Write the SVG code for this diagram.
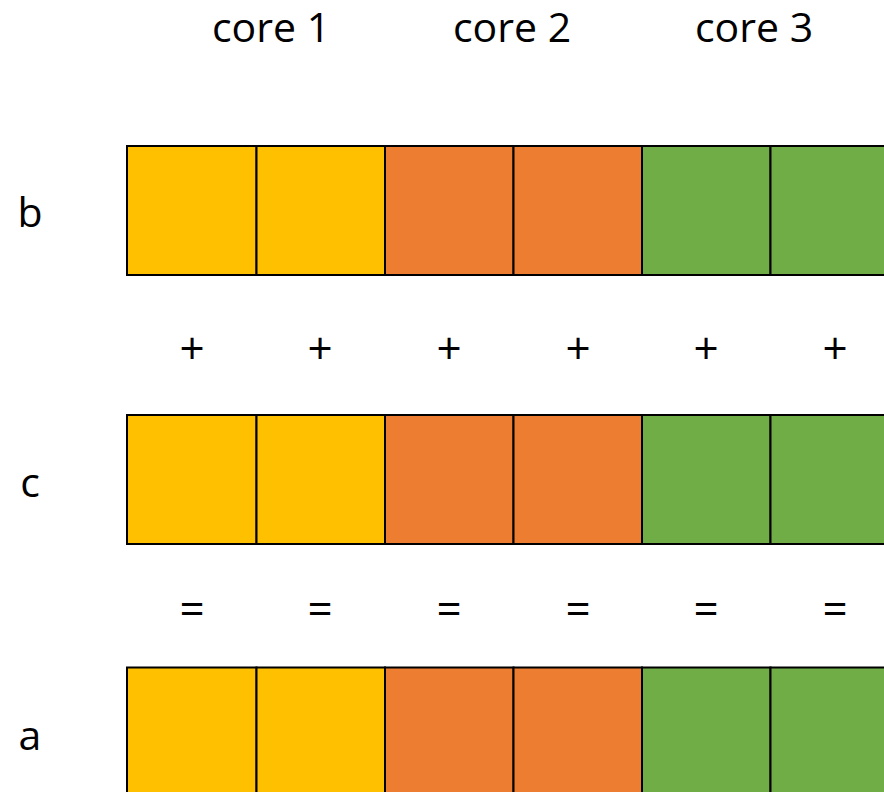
<svg xmlns="http://www.w3.org/2000/svg" width="884" height="792" viewBox="0 0 884 792">
<style>
.t{font-family:"Open Sans","Liberation Sans",sans-serif;font-size:41px;fill:#000;text-anchor:middle}
.s{font-size:44px}
.y{fill:#FFC000}.o{fill:#ED7D31}.g{fill:#70AD47}
.c{stroke:#000;stroke-width:2}
</style>
<rect width="884" height="792" fill="#fff"/>
<g id="headers">
<text class="t" x="271" y="42">core 1</text>
<text class="t" x="512" y="42">core 2</text>
<text class="t" x="754" y="42">core 3</text>
</g>
<g id="row-b">
<text class="t" x="30" y="227">b</text>
<rect class="c y" x="127" y="146" width="129.5" height="129"/>
<rect class="c y" x="256.5" y="146" width="128.5" height="129"/>
<rect class="c o" x="385" y="146" width="128.5" height="129"/>
<rect class="c o" x="513.5" y="146" width="128.5" height="129"/>
<rect class="c g" x="642" y="146" width="128.5" height="129"/>
<rect class="c g" x="770.5" y="146" width="128.5" height="129"/>
</g>
<g id="plus">
<text class="t s" x="192" y="364">+</text>
<text class="t s" x="320" y="364">+</text>
<text class="t s" x="449" y="364">+</text>
<text class="t s" x="578" y="364">+</text>
<text class="t s" x="706" y="364">+</text>
<text class="t s" x="835" y="364">+</text>
</g>
<g id="row-c">
<text class="t" x="30" y="497">c</text>
<rect class="c y" x="127" y="415" width="129.5" height="129"/>
<rect class="c y" x="256.5" y="415" width="128.5" height="129"/>
<rect class="c o" x="385" y="415" width="128.5" height="129"/>
<rect class="c o" x="513.5" y="415" width="128.5" height="129"/>
<rect class="c g" x="642" y="415" width="128.5" height="129"/>
<rect class="c g" x="770.5" y="415" width="128.5" height="129"/>
</g>
<g id="equals">
<text class="t s" x="192" y="625">=</text>
<text class="t s" x="320" y="625">=</text>
<text class="t s" x="449" y="625">=</text>
<text class="t s" x="578" y="625">=</text>
<text class="t s" x="706" y="625">=</text>
<text class="t s" x="835" y="625">=</text>
</g>
<g id="row-a">
<text class="t" x="30" y="750">a</text>
<rect class="c y" x="127" y="667.5" width="129.5" height="140"/>
<rect class="c y" x="256.5" y="667.5" width="128.5" height="140"/>
<rect class="c o" x="385" y="667.5" width="128.5" height="140"/>
<rect class="c o" x="513.5" y="667.5" width="128.5" height="140"/>
<rect class="c g" x="642" y="667.5" width="128.5" height="140"/>
<rect class="c g" x="770.5" y="667.5" width="128.5" height="140"/>
</g>
</svg>
